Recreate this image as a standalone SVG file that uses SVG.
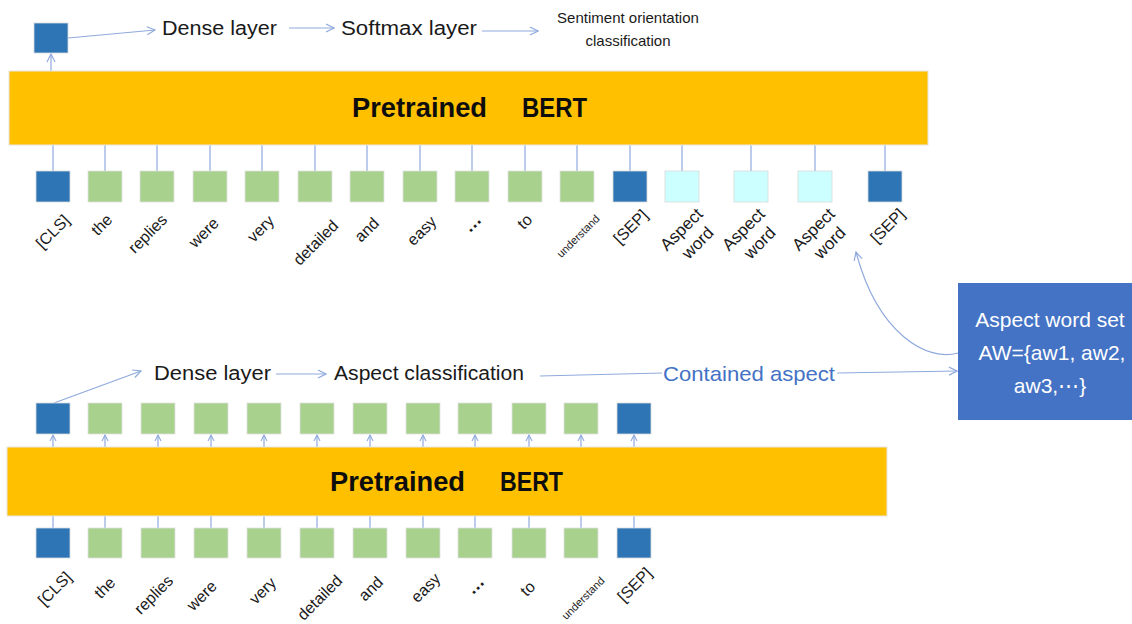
<svg xmlns="http://www.w3.org/2000/svg" width="1132" height="624" viewBox="0 0 1132 624">
<style>
.bg{fill:#ffffff}
.bert{fill:#FFC000;stroke:#E6E6E6;stroke-width:1}
.blue{fill:#2E75B6;stroke:#D9D9D9;stroke-width:0.8}
.green{fill:#A9D18E;stroke:#E2E2E2;stroke-width:0.8}
.cyan{fill:#CCFFFF;stroke:#D9D9D9;stroke-width:0.8}
.conn{stroke:#8FAADC;stroke-width:1.2;fill:none}
.txt{font-family:"Liberation Sans",Arial,sans-serif;fill:#1a1a1a}
.lbl{font-family:"Liberation Sans",Arial,sans-serif;fill:#1a1a1a;font-size:16px;text-anchor:middle}
.big{font-family:"Liberation Sans",Arial,sans-serif;fill:#0d0d0d;font-size:27px;font-weight:bold}
.mid{font-size:20px}
</style>
<defs>
<marker id="ah" markerWidth="10" markerHeight="10" refX="9" refY="5" orient="auto" markerUnits="userSpaceOnUse">
<path d="M1,1 L9,5 L1,9" fill="none" stroke="#8FAADC" stroke-width="1.2"/>
</marker>
<marker id="ahs" markerWidth="8" markerHeight="8" refX="7" refY="4" orient="auto" markerUnits="userSpaceOnUse">
<path d="M1,1 L7,4 L1,7" fill="none" stroke="#8FAADC" stroke-width="1.1"/>
</marker>
</defs>
<rect class="bg" x="0" y="0" width="1132" height="624"/>

<g id="connectors">
<line class="conn" x1="51" y1="71" x2="51" y2="54" marker-end="url(#ah)"/>
<line class="conn" x1="68" y1="38" x2="155" y2="30" marker-end="url(#ah)"/>
<line class="conn" x1="289" y1="28" x2="334" y2="28" marker-end="url(#ah)"/>
<line class="conn" x1="482" y1="31" x2="538" y2="31" marker-end="url(#ah)"/>
<g class="conn">
<line x1="53" y1="145" x2="53" y2="171"/><line x1="105" y1="145" x2="105" y2="171"/>
<line x1="157" y1="145" x2="157" y2="171"/><line x1="210" y1="145" x2="210" y2="171"/>
<line x1="262" y1="145" x2="262" y2="171"/><line x1="315" y1="145" x2="315" y2="171"/>
<line x1="367" y1="145" x2="367" y2="171"/><line x1="420" y1="145" x2="420" y2="171"/>
<line x1="472" y1="145" x2="472" y2="171"/><line x1="525" y1="145" x2="525" y2="171"/>
<line x1="577" y1="145" x2="577" y2="171"/><line x1="630" y1="145" x2="630" y2="171"/>
<line x1="682" y1="145" x2="682" y2="171"/><line x1="751" y1="145" x2="751" y2="171"/>
<line x1="815" y1="145" x2="815" y2="171"/><line x1="885" y1="145" x2="885" y2="171"/>
</g>
<path class="conn" d="M958,353 C928,362 878,335 856,252" marker-end="url(#ah)"/>
<line class="conn" x1="54" y1="403" x2="141" y2="371" marker-end="url(#ah)"/>
<line class="conn" x1="276" y1="374" x2="326" y2="374" marker-end="url(#ah)"/>
<line class="conn" x1="540" y1="376" x2="662" y2="373"/>
<line class="conn" x1="837" y1="373" x2="957" y2="371" marker-end="url(#ah)"/>
<g class="conn">
<line x1="53" y1="447" x2="53" y2="435" marker-end="url(#ahs)"/><line x1="105" y1="447" x2="105" y2="435" marker-end="url(#ahs)"/>
<line x1="158" y1="447" x2="158" y2="435" marker-end="url(#ahs)"/><line x1="211" y1="447" x2="211" y2="435" marker-end="url(#ahs)"/>
<line x1="264" y1="447" x2="264" y2="435" marker-end="url(#ahs)"/><line x1="317" y1="447" x2="317" y2="435" marker-end="url(#ahs)"/>
<line x1="370" y1="447" x2="370" y2="435" marker-end="url(#ahs)"/><line x1="423" y1="447" x2="423" y2="435" marker-end="url(#ahs)"/>
<line x1="475" y1="447" x2="475" y2="435" marker-end="url(#ahs)"/><line x1="529" y1="447" x2="529" y2="435" marker-end="url(#ahs)"/>
<line x1="581" y1="447" x2="581" y2="435" marker-end="url(#ahs)"/><line x1="634" y1="447" x2="634" y2="435" marker-end="url(#ahs)"/>
</g>
<g class="conn">
<line x1="53" y1="516" x2="53" y2="528"/><line x1="105" y1="516" x2="105" y2="528"/>
<line x1="158" y1="516" x2="158" y2="528"/><line x1="211" y1="516" x2="211" y2="528"/>
<line x1="264" y1="516" x2="264" y2="528"/><line x1="317" y1="516" x2="317" y2="528"/>
<line x1="370" y1="516" x2="370" y2="528"/><line x1="423" y1="516" x2="423" y2="528"/>
<line x1="475" y1="516" x2="475" y2="528"/><line x1="529" y1="516" x2="529" y2="528"/>
<line x1="581" y1="516" x2="581" y2="528"/><line x1="634" y1="516" x2="634" y2="528"/>
</g>
</g>

<g id="top-cls-out"><rect class="blue" x="34" y="23" width="34" height="30"/></g>
<g id="top-dense"><text class="txt mid" x="162" y="35" textLength="115" lengthAdjust="spacingAndGlyphs">Dense layer</text></g>
<g id="top-softmax"><text class="txt mid" x="341" y="35" textLength="136" lengthAdjust="spacingAndGlyphs">Softmax layer</text></g>
<g id="top-sentiment">
<text class="txt" font-size="15" text-anchor="middle" x="628" y="23">Sentiment orientation</text>
<text class="txt" font-size="15" text-anchor="middle" x="628" y="46">classification</text>
</g>
<g id="top-bert">
<rect class="bert" x="9" y="71" width="919" height="74"/>
<text class="big" x="352" y="117" textLength="135" lengthAdjust="spacingAndGlyphs">Pretrained</text>
<text class="big" x="522" y="117" textLength="65" lengthAdjust="spacingAndGlyphs">BERT</text>
</g>
<g id="top-tokens">
<rect class="blue" x="36" y="171" width="34" height="31"/>
<rect class="green" x="88" y="171" width="34" height="31"/>
<rect class="green" x="140" y="171" width="34" height="31"/>
<rect class="green" x="193" y="171" width="34" height="31"/>
<rect class="green" x="245" y="171" width="34" height="31"/>
<rect class="green" x="298" y="171" width="34" height="31"/>
<rect class="green" x="350" y="171" width="34" height="31"/>
<rect class="green" x="403" y="171" width="34" height="31"/>
<rect class="green" x="455" y="171" width="34" height="31"/>
<rect class="green" x="508" y="171" width="34" height="31"/>
<rect class="green" x="560" y="171" width="34" height="31"/>
<rect class="blue" x="613" y="171" width="34" height="31"/>
<rect class="cyan" x="665" y="171" width="34" height="31"/>
<rect class="cyan" x="734" y="171" width="34" height="31"/>
<rect class="cyan" x="798" y="171" width="34" height="31"/>
<rect class="blue" x="868" y="171" width="34" height="31"/>
</g>
<g id="top-labels" class="lbl">
<text transform="translate(53,232) rotate(-45)" y="5">[CLS]</text>
<text transform="translate(102,225) rotate(-45)" y="5">the</text>
<text transform="translate(148,234) rotate(-45)" y="5">replies</text>
<text transform="translate(204,233) rotate(-45)" y="5">were</text>
<text transform="translate(261,229) rotate(-45)" y="5">very</text>
<text transform="translate(316,243) rotate(-45)" y="5">detailed</text>
<text transform="translate(367,230) rotate(-45)" y="5">and</text>
<text transform="translate(422,231) rotate(-45)" y="5">easy</text>
<text transform="translate(474,225) rotate(-45)" y="3" font-size="18" font-weight="bold">…</text>
<text transform="translate(525,222) rotate(-45)" y="5">to</text>
<text transform="translate(578,236) rotate(-45)" y="4" font-size="11">understand</text>
<text transform="translate(631,227) rotate(-45)" y="5">[SEP]</text>
<text transform="translate(689,237) rotate(-45)" font-size="17"><tspan x="0" y="-5">Aspect</tspan><tspan x="2" y="16">word</tspan></text>
<text transform="translate(751,237) rotate(-45)" font-size="17"><tspan x="0" y="-5">Aspect</tspan><tspan x="2" y="16">word</tspan></text>
<text transform="translate(821,237) rotate(-45)" font-size="17"><tspan x="0" y="-5">Aspect</tspan><tspan x="2" y="16">word</tspan></text>
<text transform="translate(888,226) rotate(-45)" y="5">[SEP]</text>
</g>

<g id="aspect-word-set">
<rect x="958" y="283" width="176" height="137" fill="#4472C4"/>
<text class="txt" style="fill:#ffffff" font-size="21" text-anchor="middle" x="1050" y="327">Aspect word set</text>
<text class="txt" style="fill:#ffffff" font-size="21" text-anchor="middle" x="1052" y="360">AW={aw1, aw2,</text>
<text class="txt" style="fill:#ffffff" font-size="21" text-anchor="middle" x="1050" y="393">aw3,⋯}</text>
</g>

<g id="bottom-dense"><text class="txt mid" x="154" y="380" textLength="117" lengthAdjust="spacingAndGlyphs">Dense layer</text></g>
<g id="bottom-aspect-classification"><text class="txt mid" x="334" y="380" textLength="190" lengthAdjust="spacingAndGlyphs">Aspect classification</text></g>
<g id="contained-aspect"><text class="txt" style="fill:#4472C4" font-size="21" x="663" y="381" textLength="172" lengthAdjust="spacingAndGlyphs">Contained aspect</text></g>
<g id="bottom-outputs">
<rect class="blue" x="36" y="403" width="34" height="31"/>
<rect class="green" x="88" y="403" width="34" height="31"/>
<rect class="green" x="141" y="403" width="34" height="31"/>
<rect class="green" x="194" y="403" width="34" height="31"/>
<rect class="green" x="247" y="403" width="34" height="31"/>
<rect class="green" x="300" y="403" width="34" height="31"/>
<rect class="green" x="353" y="403" width="34" height="31"/>
<rect class="green" x="406" y="403" width="34" height="31"/>
<rect class="green" x="458" y="403" width="34" height="31"/>
<rect class="green" x="512" y="403" width="34" height="31"/>
<rect class="green" x="564" y="403" width="34" height="31"/>
<rect class="blue" x="617" y="403" width="34" height="31"/>
</g>
<g id="bottom-bert">
<rect class="bert" x="7" y="447" width="880" height="69"/>
<text class="big" x="330" y="491" textLength="135" lengthAdjust="spacingAndGlyphs">Pretrained</text>
<text class="big" x="500" y="491" textLength="63" lengthAdjust="spacingAndGlyphs">BERT</text>
</g>
<g id="bottom-tokens">
<rect class="blue" x="36" y="528" width="34" height="30"/>
<rect class="green" x="88" y="528" width="34" height="30"/>
<rect class="green" x="141" y="528" width="34" height="30"/>
<rect class="green" x="194" y="528" width="34" height="30"/>
<rect class="green" x="247" y="528" width="34" height="30"/>
<rect class="green" x="300" y="528" width="34" height="30"/>
<rect class="green" x="353" y="528" width="34" height="30"/>
<rect class="green" x="406" y="528" width="34" height="30"/>
<rect class="green" x="458" y="528" width="34" height="30"/>
<rect class="green" x="512" y="528" width="34" height="30"/>
<rect class="green" x="564" y="528" width="34" height="30"/>
<rect class="blue" x="617" y="528" width="34" height="30"/>
</g>
<g id="bottom-labels" class="lbl">
<text transform="translate(55,589) rotate(-45)" y="5">[CLS]</text>
<text transform="translate(105,588) rotate(-45)" y="5">the</text>
<text transform="translate(154,595) rotate(-45)" y="5">replies</text>
<text transform="translate(202,596) rotate(-45)" y="5">were</text>
<text transform="translate(263,591) rotate(-45)" y="5">very</text>
<text transform="translate(320,598) rotate(-45)" y="5">detailed</text>
<text transform="translate(371,589) rotate(-45)" y="5">and</text>
<text transform="translate(426,588) rotate(-45)" y="5">easy</text>
<text transform="translate(477,587) rotate(-45)" y="3" font-size="18" font-weight="bold">…</text>
<text transform="translate(528,589) rotate(-45)" y="5">to</text>
<text transform="translate(583,598) rotate(-45)" y="4" font-size="11">understand</text>
<text transform="translate(635,585) rotate(-45)" y="5">[SEP]</text>
</g>
</svg>
